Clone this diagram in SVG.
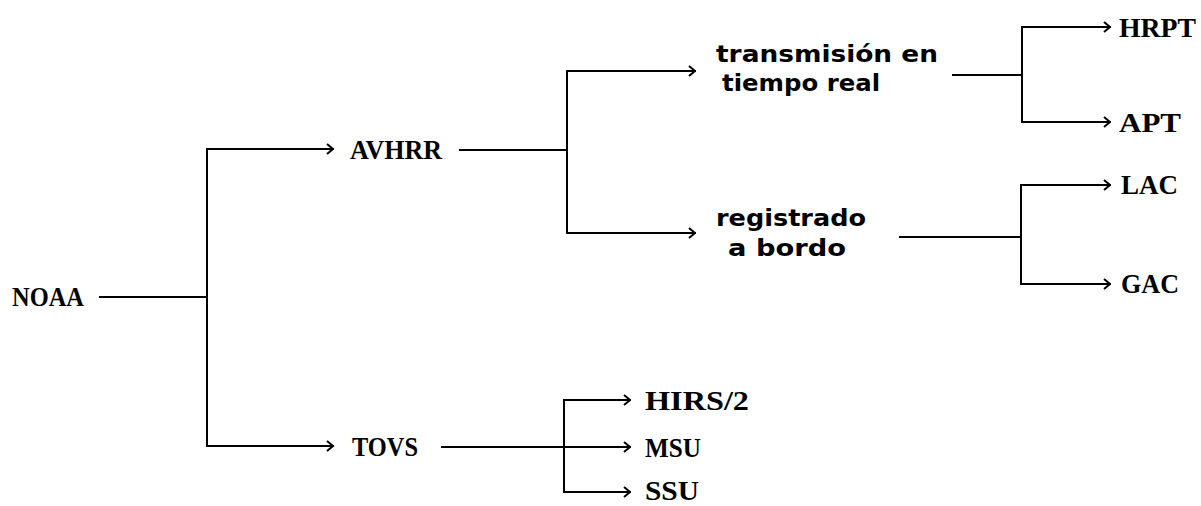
<svg xmlns="http://www.w3.org/2000/svg" width="1201" height="506" viewBox="0 0 1201 506">
<style>
.bg{fill:#fff}
.cap{font-family:"Liberation Serif","Times New Roman",serif;font-size:28px;font-weight:bold;fill:#000}
.low{font-family:"DejaVu Sans","Liberation Sans",sans-serif;font-size:23px;font-weight:bold;fill:#000}
.ln{fill:none;stroke:#000;stroke-width:2;stroke-linecap:square;stroke-linejoin:miter}
</style>
<defs>
<marker id="ah" viewBox="0 0 12 12" refX="11" refY="6" markerWidth="12" markerHeight="12" markerUnits="userSpaceOnUse" orient="auto">
<path d="M5,1 L11,6 L5,11" fill="none" stroke="#000" stroke-width="2"/>
</marker>
</defs>
<rect class="bg" x="0" y="0" width="1201" height="506"/>
<g id="connectors">
<path class="ln" d="M100,297 H207"/>
<path class="ln" d="M207,297 V149 H333" marker-end="url(#ah)"/>
<path class="ln" d="M207,297 V446 H333" marker-end="url(#ah)"/>
<path class="ln" d="M460,150 H567"/>
<path class="ln" d="M567,150 V71 H695" marker-end="url(#ah)"/>
<path class="ln" d="M567,150 V233 H695" marker-end="url(#ah)"/>
<path class="ln" d="M953,75 H1022"/>
<path class="ln" d="M1022,75 V27 H1110" marker-end="url(#ah)"/>
<path class="ln" d="M1022,75 V122 H1110" marker-end="url(#ah)"/>
<path class="ln" d="M900,237 H1021"/>
<path class="ln" d="M1021,237 V185 H1110" marker-end="url(#ah)"/>
<path class="ln" d="M1021,237 V284 H1110" marker-end="url(#ah)"/>
<path class="ln" d="M442,447 H630" marker-end="url(#ah)"/>
<path class="ln" d="M564,447 V400 H630" marker-end="url(#ah)"/>
<path class="ln" d="M564,447 V492 H630" marker-end="url(#ah)"/>
</g>
<g id="noaa"><text class="cap" x="12" y="306" textLength="72" lengthAdjust="spacingAndGlyphs">NOAA</text></g>
<g id="avhrr"><text class="cap" x="350" y="159" textLength="92" lengthAdjust="spacingAndGlyphs">AVHRR</text></g>
<g id="tovs"><text class="cap" x="352" y="456" textLength="66" lengthAdjust="spacingAndGlyphs">TOVS</text></g>
<g id="tiempo-real">
<text class="low" x="716" y="62" textLength="222" lengthAdjust="spacingAndGlyphs">transmisión en</text>
<text class="low" x="722" y="91" textLength="158" lengthAdjust="spacingAndGlyphs">tiempo real</text>
</g>
<g id="registrado">
<text class="low" x="716" y="226" textLength="150" lengthAdjust="spacingAndGlyphs">registrado</text>
<text class="low" x="728" y="256" textLength="118" lengthAdjust="spacingAndGlyphs">a bordo</text>
</g>
<g id="hrpt"><text class="cap" x="1119" y="37" textLength="77" lengthAdjust="spacingAndGlyphs">HRPT</text></g>
<g id="apt"><text class="cap" x="1119" y="132" textLength="62" lengthAdjust="spacingAndGlyphs">APT</text></g>
<g id="lac"><text class="cap" x="1121" y="194" textLength="57" lengthAdjust="spacingAndGlyphs">LAC</text></g>
<g id="gac"><text class="cap" x="1121" y="293" textLength="58" lengthAdjust="spacingAndGlyphs">GAC</text></g>
<g id="hirs2"><text class="cap" x="645" y="410" textLength="104" lengthAdjust="spacingAndGlyphs">HIRS/2</text></g>
<g id="msu"><text class="cap" x="645" y="457" textLength="56" lengthAdjust="spacingAndGlyphs">MSU</text></g>
<g id="ssu"><text class="cap" x="645" y="500" textLength="54" lengthAdjust="spacingAndGlyphs">SSU</text></g>
</svg>
